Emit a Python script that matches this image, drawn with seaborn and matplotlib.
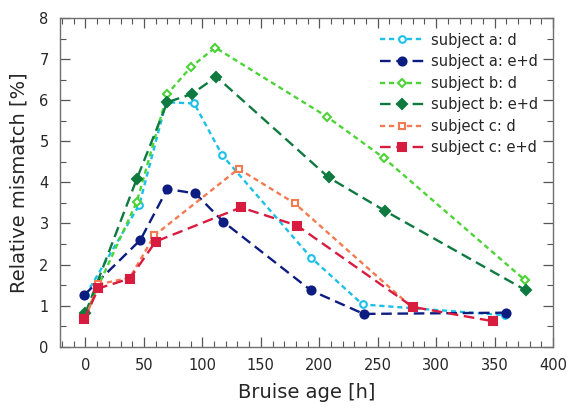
import numpy as np
import pandas as pd
import matplotlib
matplotlib.use("Agg")
import matplotlib.pyplot as plt
import seaborn as sns
from matplotlib.ticker import MultipleLocator

# ---- data ----
labels = ["subject a: d", "subject a: e+d", "subject b: d", "subject b: e+d",
          "subject c: d", "subject c: e+d"]

a_d_x = [0, 46, 69, 93, 117, 193, 237, 359]
a_d_y = [1.25, 3.45, 5.95, 5.92, 4.66, 2.17, 1.03, 0.77]

a_ed_x = [-1, 47, 70, 94, 118, 193, 238, 360]
a_ed_y = [1.26, 2.6, 3.84, 3.73, 3.04, 1.37, 0.8, 0.83]

b_d_x = [0, 44, 70, 90, 111, 207, 255, 376]
b_d_y = [0.8, 3.53, 6.15, 6.8, 7.28, 5.59, 4.6, 1.62]

b_ed_x = [0, 44, 70, 91, 112, 208, 256, 377]
b_ed_y = [0.82, 4.09, 5.95, 6.15, 6.57, 4.12, 3.31, 1.37]

c_d_x = [0, 11, 38, 59, 131, 179, 279]
c_d_y = [0.7, 1.52, 1.68, 2.71, 4.33, 3.49, 0.97]

c_ed_x = [-1, 11, 38, 60, 133, 181, 280, 349]
c_ed_y = [0.67, 1.42, 1.66, 2.56, 3.39, 2.95, 0.97, 0.62]

xs = [a_d_x, a_ed_x, b_d_x, b_ed_x, c_d_x, c_ed_x]
ys = [a_d_y, a_ed_y, b_d_y, b_ed_y, c_d_y, c_ed_y]

colors = ["#1cc0e8", "#0c1c80", "#4cd436", "#0e7a40", "#f47a52", "#d81c40"]
markers = ["o", "o", "D", "D", "s", "s"]
filled = [False, True, False, True, False, True]
msizes = [4.8, 5.8, 4.2, 4.8, 4.8, 5.8]
short = (0, (2.2, 1.6))
long_ = (0, (4.5, 2.4))
styles = [short, long_, short, long_, short, long_]

sns.set_style("ticks")
plt.rcParams['font.family'] = ['DejaVu Sans']

fig = plt.figure(figsize=(5.69, 4.08), dpi=100)
ax = fig.add_axes([0.105, 0.15, 0.867, 0.806])

for lab, x, y, c, m, f, ms, ls in zip(labels, xs, ys, colors, markers, filled, msizes, styles):
    df = pd.DataFrame({"x": x, "y": y})
    sns.lineplot(data=df, x="x", y="y", ax=ax, color=c, marker=m,
                 markersize=ms, markerfacecolor=(c if f else "white"),
                 markeredgecolor=c, markeredgewidth=1.5,
                 linestyle=ls, linewidth=1.7, label=lab)

ax.set_xlim(-22, 400)
ax.set_ylim(0, 8)
ax.xaxis.set_major_locator(MultipleLocator(50))
ax.xaxis.set_minor_locator(MultipleLocator(10))
ax.yaxis.set_major_locator(MultipleLocator(1))
ax.yaxis.set_minor_locator(MultipleLocator(0.5))
ax.tick_params(which="both", direction="in", top=True, right=True,
               color="#555555")
ax.tick_params(which="major", length=7, width=0.9, labelsize=10.5, pad=8)
ax.tick_params(which="minor", length=4, width=0.8)
for sp in ax.spines.values():
    sp.set_color("#707070")
    sp.set_linewidth(1.0)

ax.set_xlabel("Bruise age [h]", fontsize=14, labelpad=7)
ax.set_ylabel("Relative mismatch [%]", fontsize=14, labelpad=8)

leg = ax.legend(loc="upper right", frameon=False, fontsize=10.5,
                handlelength=3.0, handletextpad=0.5, labelspacing=0.45,
                borderaxespad=0.6)

fig.savefig("out.png", dpi=100)
